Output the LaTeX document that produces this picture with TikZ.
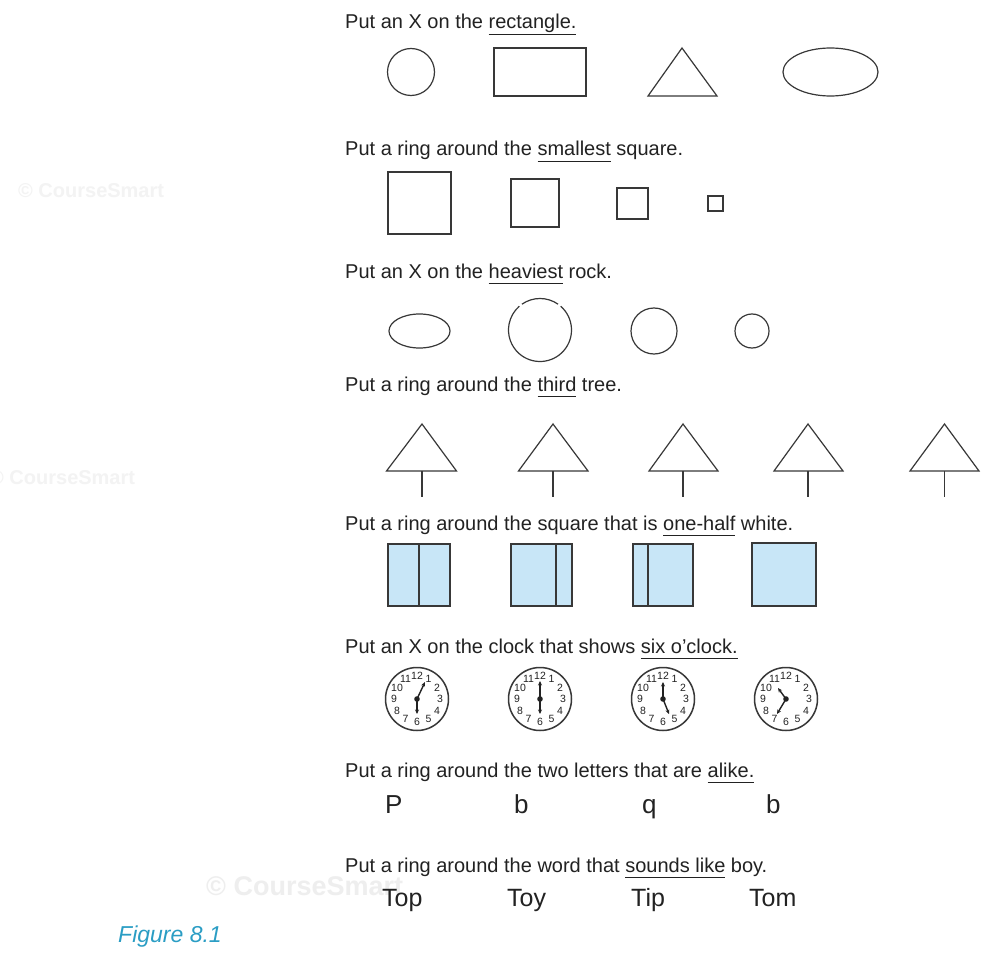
\documentclass[tikz,border=0pt]{standalone}
\usepackage{fontspec}
\setmainfont{Liberation Sans}
\usetikzlibrary{arrows.meta}
\definecolor{ink}{HTML}{222222}
\definecolor{shapeline}{HTML}{383838}
\definecolor{sky}{HTML}{C8E6F7}
\definecolor{figcol}{HTML}{2A9DC4}
\definecolor{wmark}{HTML}{F3F3F3}
\definecolor{wmarkb}{HTML}{EEEEEE}
\newcommand\ulu[1]{\setbox0\hbox{#1}\rlap{\rule[-6pt]{\wd0}{1.3pt}}\box0\relax}
\newcommand\clockat[6]{%
  \begin{scope}[shift={(#1,#2)}]
    \draw[clk] (0,0) circle[radius=31.5];
    \foreach \k in {1,...,12}
      \node[clknum] at ({23*sin(30*\k)},{-23*cos(30*\k)}) {\k};
    \draw[hand] (0,0) -- (#3,#4);
    \draw[hand] (0,0) -- (#5,#6);
    \fill[ink] (0,0) circle[radius=2.8];
  \end{scope}}
\tikzset{
  txt/.style={anchor=base west, inner sep=0pt, text=ink, font=\fontsize{20}{24}\selectfont},
  letter/.style={anchor=base west, inner sep=0pt, text=ink, font=\fontsize{26}{30}\selectfont},
  word/.style={anchor=base west, inner sep=0pt, text=ink, font=\fontsize{25}{30}\selectfont},
  wm/.style={anchor=base west, inner sep=0pt, text=wmark, font=\bfseries\fontsize{20}{24}\selectfont},
  shp/.style={draw=shapeline, line width=1.2pt},
  clk/.style={draw=shapeline, line width=1.5pt},
  clknum/.style={inner sep=0pt, text=ink, font=\fontsize{10.5}{11}\selectfont},
  hand/.style={draw=ink, line width=1.4pt, -{Stealth[length=4.5pt,width=4pt]}},
}
\begin{document}
\begin{tikzpicture}[x=1pt,y=-1pt]
\useasboundingbox (0,0) rectangle (986,955);
\fill[white] (0,0) rectangle (986,955);
% watermarks
\node[wm] (wm1) at (18,197) {© CourseSmart};
\node[wm] (wm2) at (-11,484) {© CourseSmart};
\node[wm, text=wmarkb, font=\bfseries\fontsize{27}{32}\selectfont] (wm3) at (206,895) {© CourseSmart};

% questions
\node[txt] (q1) at (345,29) {Put an X on the \ulu{rectangle.}};
\node[txt] (q2) at (345,156) {Put a ring around the \ulu{smallest} square.};
\node[txt] (q3) at (345,278) {Put an X on the \ulu{heaviest} rock.};
\node[txt] (q4) at (345,391) {Put a ring around the \ulu{third} tree.};
\node[txt] (q5) at (345,530) {Put a ring around the square that is \ulu{one-half} white.};
\node[txt] (q6) at (345,653) {Put an X on the clock that shows \ulu{six o'clock.}};
\node[txt] (q7) at (345,777) {Put a ring around the two letters that are \ulu{alike.}};
\node[txt] (q8) at (345,872) {Put a ring around the word that \ulu{sounds like} boy.};

% row 1 shapes
\draw[shp] (411,72) circle[radius=23.5];
\draw[shp] (494,48) rectangle (586,96);
\draw[shp] (648,96) -- (682,48) -- (717,96) -- cycle;
\draw[shp] (830.5,72) ellipse[x radius=47.5, y radius=24];

% row 2 squares
\draw[shp] (388,172) rectangle (451,234);
\draw[shp] (511,179) rectangle (559,227);
\draw[shp] (617,188) rectangle (648,219);
\draw[shp] (708,196) rectangle (723,211);

% row 3 rocks
\draw[shp] (419.5,331) ellipse[x radius=30.5, y radius=17];
\draw[shp] (540,330) ++(-55:31.5) arc[start angle=-55, end angle=-125, radius=31.5];
\draw[shp] (540,330) ++(-49:31.5) arc[start angle=-49, end angle=229, radius=31.5];
\draw[shp] (654,331) circle[radius=23];
\draw[shp] (752,331) circle[radius=17];

% row 4 trees
\foreach \ax/\bl/\br in {422/386.5/456.5, 553/518.5/588, 683/649/718, 808/774/843, 944.5/910/979}{
  \draw[shp] (\bl,471) -- (\ax,424) -- (\br,471) -- cycle;
  \draw[shp] (\ax,471) -- (\ax,497);
}

% row 5 blue squares
\filldraw[shp, fill=sky] (388,544) rectangle (450,606);
\draw[shp] (419,544) -- (419,606);
\filldraw[shp, fill=sky] (511,544) rectangle (572,606);
\draw[shp] (556,544) -- (556,606);
\filldraw[shp, fill=sky] (633,544) rectangle (693,606);
\draw[shp] (648,544) -- (648,606);
\filldraw[shp, fill=sky] (752,543) rectangle (816,606);

% row 6 clocks
\clockat{417}{699}{8}{-17}{0}{15}
\clockat{540}{699}{0}{-18}{0}{15}
\clockat{663}{699}{0}{-17}{6}{15}
\clockat{786}{699}{-8}{-11}{-9}{15}

% row 7 letters
\node[letter] (l1) at (385,813) {P};
\node[letter] (l2) at (514,813) {b};
\node[letter] (l3) at (642,813) {q};
\node[letter] (l4) at (766,813) {b};

% row 8 words
\node[word] (w1) at (382,906) {Top};
\node[word] (w2) at (507,906) {Toy};
\node[word] (w3) at (631,906) {Tip};
\node[word] (w4) at (749,906) {Tom};

% caption
\node[anchor=base west, inner sep=0pt, text=figcol, font=\itshape\fontsize{23}{27}\selectfont] (cap) at (118,942) {Figure 8.1};
\end{tikzpicture}
\end{document}
